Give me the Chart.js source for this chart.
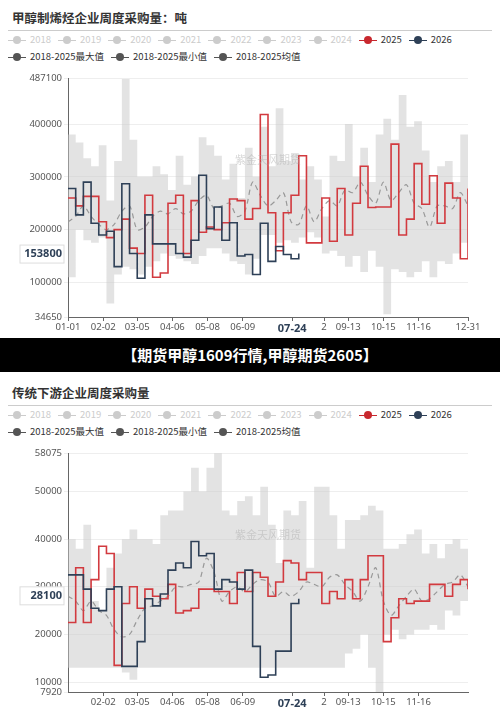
<!DOCTYPE html>
<html><head><meta charset="utf-8">
<script src="https://cdn.jsdelivr.net/npm/chart.js@4/dist/chart.umd.min.js"></script>
<style>
body{margin:0;width:500px;height:713px;background:#fff;font-family:"Noto Sans CJK SC","Noto Sans",sans-serif;overflow:hidden;position:relative}
.title{position:absolute;left:12px;font-size:12.5px;font-weight:bold;color:#333}
.sep{position:absolute;left:8px;width:484px;height:1px;background:#ccc}
.leg{position:absolute;left:8px;font-size:9.5px;color:#333;white-space:nowrap}
.leg span{display:inline-block;margin-right:7px}
.leg i{display:inline-block;width:18px;height:1.5px;vertical-align:middle;position:relative;margin-right:4px}
.leg i:after{content:"";position:absolute;left:5px;top:-3.5px;width:8px;height:8px;border-radius:50%;background:inherit}
.off{color:#ccc}.off i{background:#ccc}
#banner{position:absolute;left:0;top:338px;width:500px;height:34px;background:#000;color:#fff;font-size:15px;font-weight:bold;text-align:center;line-height:34px}
canvas{position:absolute;left:0}
</style></head><body>
<div class="title" style="top:8px">甲醇制烯烃企业周度采购量：吨</div>
<div class="sep" style="top:30px"></div>
<div class="leg" id="l1a" style="top:32px"></div>
<div class="leg" id="l1b" style="top:49px"></div>
<div style="position:absolute;top:65px;left:0;width:500px;height:273px"><canvas id="c1"></canvas></div>
<div id="banner">【期货甲醇1609行情,甲醇期货2605】</div>
<div class="title" style="top:383px">传统下游企业周度采购量</div>
<div class="sep" style="top:405px"></div>
<div class="leg" id="l2a" style="top:407px"></div>
<div class="leg" id="l2b" style="top:424px"></div>
<div style="position:absolute;top:440px;left:0;width:500px;height:273px"><canvas id="c2"></canvas></div>
<script>
const years = ["2018","2019","2020","2021","2022","2023","2024"];
const statNames = ["2018-2025最大值","2018-2025最小值","2018-2025均值"];

const top2025 = [260,245,263,263,215,185,200,220,165,155,265,110,118,250,265,155,255,195,205,200,213,258,255,220,240,418,232,160,232,265,340,175,175,260,178,278,190,250,320,242,243,243,362,190,220,325,248,302,212,288,260,145,222,278];
const top2026 = [278,228,290,212,190,197,130,287,155,108,228,173,173,173,155,148,180,303,202,243,180,213,150,153,115,212,140,168,153,145,155];
const topMax = [380,365,335,320,360,255,330,485,370,300,300,320,305,275,340,285,300,375,360,340,295,325,260,355,300,395,320,430,330,345,295,320,295,225,340,330,400,300,355,290,380,410,370,455,395,405,350,290,320,330,290,380,410];
const topMin = [110,200,180,175,185,60,115,130,125,115,130,140,155,150,145,140,135,150,165,165,155,140,135,115,145,190,190,175,180,175,185,195,185,155,160,150,130,150,120,160,130,40,125,120,110,120,140,110,140,135,155,175,110];
const topMean = [215,225,245,225,210,200,210,235,245,200,205,225,235,230,240,230,235,255,265,240,245,250,225,235,290,265,245,255,270,215,210,245,215,240,255,245,275,270,290,265,250,290,255,270,285,250,240,205,245,245,240,270,245];

const bot2025 = [22.5,34,22.5,31.5,38.5,37,13.5,26.5,30,25.5,29.5,28,27.5,30.5,24.5,25,25.5,29.5,29.5,29,29,26.5,33,29,33,32,28,31,35.5,35,31.5,33,33,26.5,29,27.5,31.5,27.5,31.5,36.5,36.5,18.5,23.5,27.5,26.5,27,27,30.5,30.5,28,30.5,31.5,29.5,29.5];
const bot2026 = [32.5,32.5,29.5,25.5,25,29.5,30,13.3,13.3,18.5,27.5,26,28.5,33.5,35,34,39.5,36.5,37,29.5,31.5,31,29.5,33.5,17.5,11,11.5,16.5,16.5,26.5,27.5];
const botMax = [40,38,43,27,25,34,37,40,42,40,40,39,45,46,46,50,55,50,55,58,46,45,48,49,45,51,43,35,46,45,48,34,51,51,45,38,44,44,45,47,46,38,38,39,41,42,37,39,36,39,40,38,39];
const botMin = [13,13,13,13,13,13,13,12,10.5,13,13,13,13,13,13,13,13,13,13,13,13,13,13,13,13,13,13,13,13,13,13,13,13,13,13,13,16,17,20,13,7.92,20,21,19,20,21,21,22,21,25,24,27,16];
const botMean = [28,27,25,27,25,24,21,19.5,20,23,25.5,26,27,28,30,30,30.5,31,36,33,27,29,30,29,30.5,31.5,31,28,29,28,29,31,30.5,30,32,32.5,30.5,29,27,30,34,27,24,26,28,29.5,27,27.5,29,30.5,31,32.5,30];

const topTicks = [34650,100000,200000,300000,400000,487100];
const botTicks = [7920,10000,20000,30000,40000,50000,58075];
const xTickDays = [0,32,63,95,127,159,204,233,255,287,319,364];
const xTickLabels = ["01-01","02-02","03-05","04-06","05-08","06-09","07-24","2","09-13","10-15","11-16","12-31"];

function legend(a,b){
  document.getElementById(a).innerHTML = years.map(y=>`<span class="off"><i></i>${y}</span>`).join("")+
    `<span><i style="background:#c8282e"></i>2025</span><span><i style="background:#2e4057"></i>2026</span>`;
  document.getElementById(b).innerHTML = statNames.map(n=>`<span><i style="background:#555"></i>${n}</span>`).join("");
}
legend("l1a","l1b");legend("l2a","l2b");

function pts(arr,scale){return arr.map((v,i)=>({x:Math.min(i*7,364),y:v*scale}));}

const overlay = {
  id:"overlay",
  afterDraw(chart){
    const o = chart.options.plugins.overlay, ctx = chart.ctx, a = chart.chartArea;
    ctx.save();
    ctx.font = "11px 'Noto Sans CJK SC'";ctx.fillStyle="rgba(170,170,170,0.45)";ctx.textAlign="center";
    ctx.fillText("紫金天风期货",(a.left+a.right)/2,a.top+(a.bottom-a.top)*0.36);
    const y = chart.scales.y.getPixelForValue(o.mark);
    ctx.fillStyle="#fff";ctx.strokeStyle="#ddd";ctx.fillRect(20,y-9,44,18);ctx.strokeRect(20,y-9,44,18);
    ctx.font="bold 11px 'Noto Sans'";ctx.fillStyle="#2e4057";ctx.textAlign="right";ctx.textBaseline="middle";
    ctx.fillText(o.mark.toString(),62,y);
    ctx.restore();
  }
};

function makeChart(id,d,ticks,scale,mark,skipEnds){
  const xt = xTickDays.map((v,i)=>({v,l:xTickLabels[i]})).filter((t,i)=>!(skipEnds&&(i===0||i===xTickDays.length-1)));
  new Chart(document.getElementById(id),{
    type:"line",
    data:{datasets:[
      {data:pts(d.max,scale),stepped:true,borderWidth:0,pointRadius:0,fill:"+1",backgroundColor:"rgba(200,200,200,0.5)",order:10},
      {data:pts(d.min,scale),stepped:true,borderWidth:0,pointRadius:0,fill:false,order:9},
      {data:pts(d.mean,scale),borderColor:"#999",borderDash:[5,4],borderWidth:1.2,pointRadius:0,tension:0.3,order:3},
      {data:pts(d.y25,scale),stepped:true,borderColor:"#d23a3f",borderWidth:1.6,pointRadius:0,order:2},
      {data:pts(d.y26,scale),stepped:true,borderColor:"#2e4057",borderWidth:1.6,pointRadius:0,order:1}
    ]},
    options:{
      responsive:true,maintainAspectRatio:false,animation:false,
      layout:{padding:{top:13,right:32}},
      plugins:{legend:{display:false},tooltip:{enabled:false},overlay:{mark}},
      scales:{
        x:{type:"linear",min:0,max:364,
          afterBuildTicks:s=>{s.ticks=xt.map(t=>({value:t.v}));},
          afterFit:s=>{s.height=21;},
          grid:{drawOnChartArea:false,tickLength:4,color:"#666"},border:{color:"#666"},
          ticks:{autoSkip:false,maxRotation:0,padding:1,
            callback:v=>{const t=xt.find(t=>t.v===v);return t?t.l:"";},
            font:c=>{const t=c.tick&&xt.find(t=>t.v===c.tick.value);return t&&t.l==="07-24"?{size:11,weight:"bold",family:"Noto Sans"}:{size:9.5,family:"Noto Sans"};},
            color:c=>{const t=c.tick&&xt.find(t=>t.v===c.tick.value);return t&&t.l==="07-24"?"#2e4057":"#555";}}},
        y:{min:ticks[0],max:ticks[ticks.length-1],
          afterBuildTicks:s=>{s.ticks=ticks.map(v=>({value:v}));},
          afterFit:s=>{s.width=68;},
          grid:{color:"#eee",tickLength:4},border:{color:"#666"},
          ticks:{color:"#555",padding:2,font:{size:9.5,family:"Noto Sans"},callback:v=>String(v)}}
      }
    },
    plugins:[overlay]
  });
}
makeChart("c1",{max:topMax,min:topMin,mean:topMean,y25:top2025,y26:top2026},topTicks,1000,153800,false);
makeChart("c2",{max:botMax,min:botMin,mean:botMean,y25:bot2025,y26:bot2026},botTicks,1000,28100,true);
</script></body></html>
